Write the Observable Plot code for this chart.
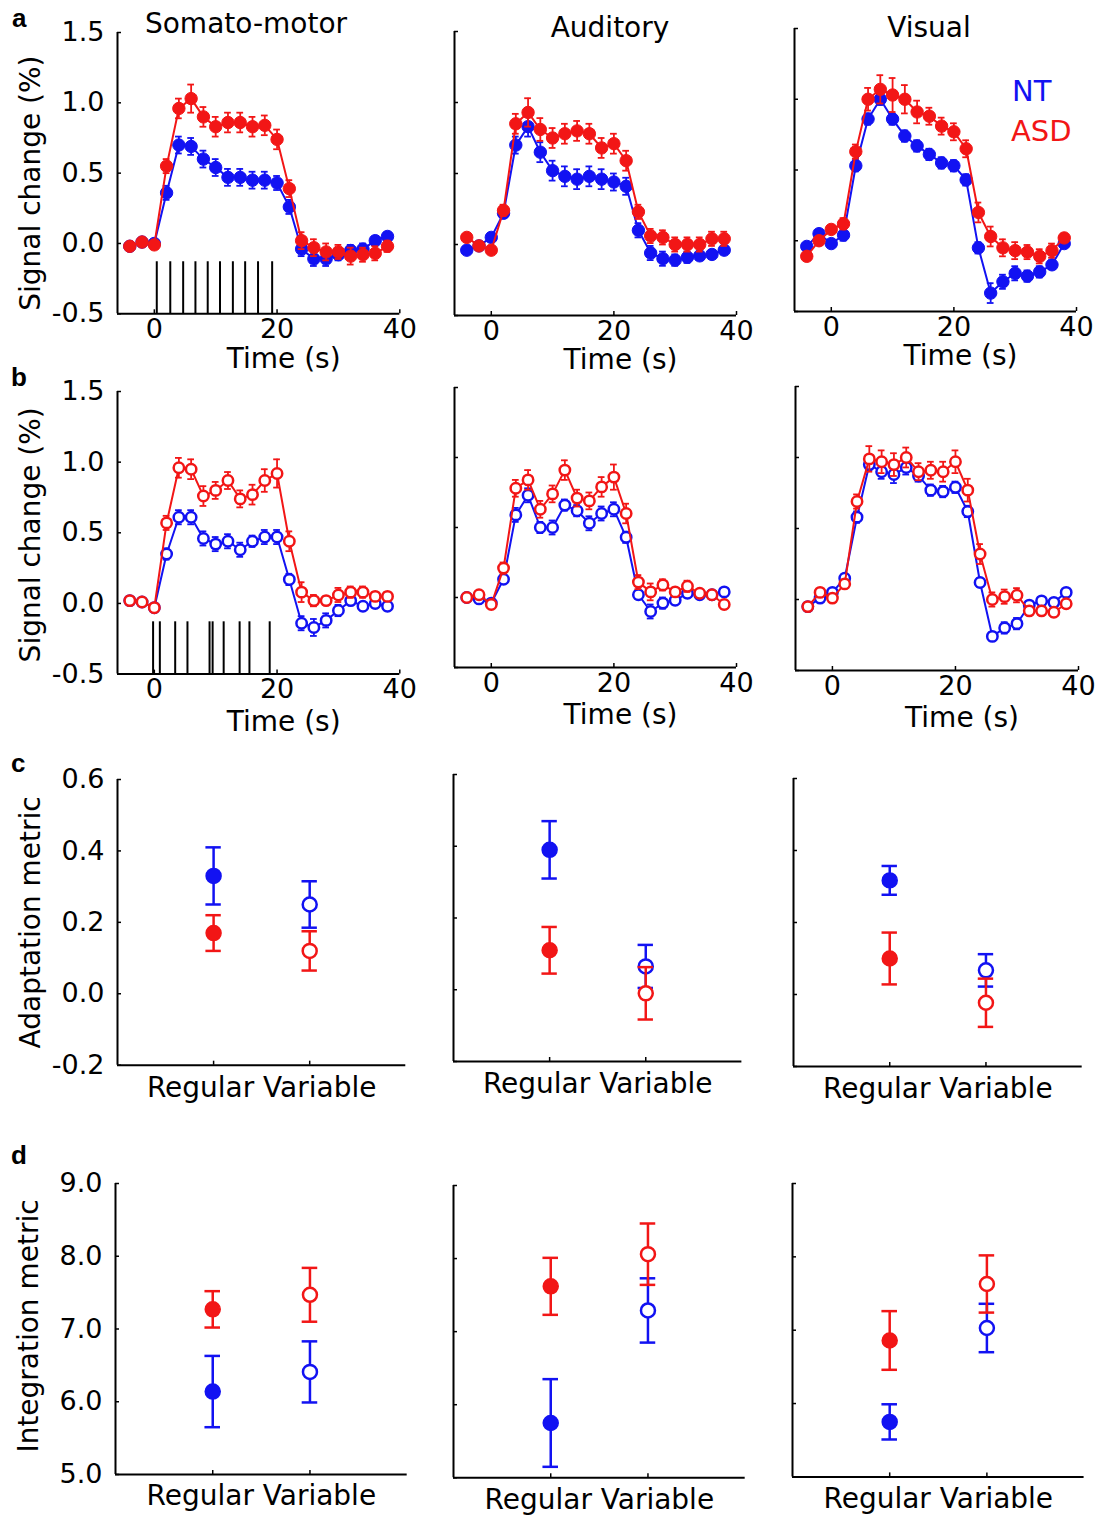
<!DOCTYPE html>
<html><head><meta charset="utf-8">
<script src="https://cdn.jsdelivr.net/npm/d3@7"></script>
<script src="https://cdn.jsdelivr.net/npm/@observablehq/plot@0.6"></script>
<style>
body{margin:0;background:#fff;}
#fig{position:relative;width:1108px;height:1518px;overflow:hidden;background:#fff;font-family:"DejaVu Sans",sans-serif;}
</style></head><body><div id="fig"></div>
<script>
// ---------------- DATA ----------------
const regions = ["Somato-motor", "Auditory", "Visual"];
const timeSec = [-4,-2,0,2,4,6,8,10,12,14,16,18,20,22,24,26,28,30,32,34,36,38];

// Row a: regular stimulation (filled markers)
const regNT = [
  [-0.02,0.01,0.00,0.36,0.70,0.69,0.60,0.54,0.47,0.47,0.45,0.45,0.43,0.26,-0.04,-0.11,-0.11,-0.08,-0.05,-0.04,0.02,0.05],
  [-0.04,-0.01,0.05,0.22,0.70,0.83,0.65,0.52,0.48,0.46,0.48,0.46,0.44,0.41,0.10,-0.06,-0.10,-0.11,-0.09,-0.08,-0.07,-0.04],
  [-0.04,0.05,-0.02,0.04,0.53,0.86,1.00,0.86,0.74,0.67,0.61,0.55,0.53,0.43,-0.05,-0.37,-0.29,-0.23,-0.25,-0.22,-0.17,-0.02]
];
const regNTerr = [
  [0.02,0.02,0.02,0.05,0.06,0.06,0.06,0.06,0.06,0.06,0.06,0.06,0.05,0.05,0.05,0.05,0.05,0.04,0.04,0.04,0.03,0.03],
  [0.02,0.02,0.03,0.03,0.06,0.07,0.07,0.07,0.07,0.07,0.07,0.07,0.06,0.06,0.05,0.05,0.05,0.04,0.04,0.03,0.03,0.03],
  [0.02,0.02,0.02,0.04,0.04,0.04,0.04,0.04,0.04,0.04,0.04,0.04,0.04,0.04,0.04,0.07,0.05,0.05,0.04,0.04,0.03,0.02]
];
const regASD = [
  [-0.02,0.01,-0.01,0.55,0.96,1.03,0.90,0.83,0.86,0.86,0.83,0.84,0.74,0.39,0.02,-0.03,-0.06,-0.06,-0.09,-0.08,-0.07,-0.02],
  [0.05,-0.01,-0.04,0.24,0.85,0.93,0.81,0.75,0.78,0.80,0.78,0.68,0.71,0.59,0.23,0.06,0.05,0.00,0.00,0.00,0.04,0.04],
  [-0.11,0.00,0.08,0.12,0.63,1.00,1.07,1.03,1.00,0.91,0.88,0.81,0.77,0.65,0.20,0.03,-0.05,-0.07,-0.08,-0.11,-0.07,0.02]
];
const regASDerr = [
  [0.02,0.02,0.02,0.05,0.07,0.10,0.07,0.07,0.07,0.07,0.07,0.07,0.07,0.06,0.06,0.06,0.06,0.05,0.06,0.05,0.05,0.04],
  [0.02,0.02,0.02,0.04,0.07,0.10,0.08,0.07,0.07,0.07,0.07,0.07,0.07,0.07,0.05,0.05,0.05,0.05,0.05,0.05,0.05,0.05],
  [0.02,0.02,0.02,0.04,0.05,0.08,0.10,0.12,0.10,0.08,0.06,0.06,0.06,0.06,0.07,0.07,0.06,0.06,0.05,0.05,0.05,0.03]
];

// Row b: variable stimulation (open markers)
const varNT = [
  [0.02,0.01,-0.03,0.35,0.61,0.61,0.46,0.42,0.44,0.38,0.44,0.47,0.47,0.17,-0.14,-0.17,-0.12,-0.05,0.02,-0.02,0.00,-0.02],
  [0.00,-0.01,-0.04,0.13,0.59,0.73,0.50,0.50,0.66,0.62,0.53,0.60,0.63,0.43,0.02,-0.10,-0.04,-0.02,0.03,0.02,0.02,0.04],
  [-0.05,0.01,0.05,0.15,0.58,0.95,0.90,0.88,0.93,0.87,0.77,0.76,0.79,0.62,0.12,-0.26,-0.20,-0.17,-0.04,-0.01,-0.02,0.05]
];
const varNTerr = [
  [0.02,0.02,0.02,0.04,0.05,0.05,0.05,0.05,0.05,0.05,0.04,0.05,0.05,0.04,0.05,0.06,0.05,0.04,0.03,0.03,0.03,0.03],
  [0.02,0.02,0.02,0.03,0.05,0.05,0.04,0.05,0.04,0.04,0.05,0.05,0.05,0.04,0.03,0.05,0.04,0.03,0.03,0.02,0.02,0.02],
  [0.02,0.02,0.02,0.03,0.04,0.04,0.05,0.06,0.05,0.04,0.04,0.04,0.04,0.04,0.03,0.03,0.04,0.04,0.03,0.02,0.02,0.02]
];
const varASD = [
  [0.02,0.01,-0.03,0.57,0.96,0.95,0.76,0.80,0.87,0.74,0.77,0.87,0.92,0.44,0.08,0.02,0.02,0.06,0.08,0.08,0.05,0.05],
  [0.00,0.02,-0.05,0.21,0.78,0.84,0.63,0.74,0.91,0.71,0.69,0.79,0.86,0.60,0.11,0.04,0.09,0.04,0.08,0.03,0.02,-0.05],
  [-0.05,0.05,0.01,0.11,0.69,0.99,0.97,0.95,1.00,0.90,0.91,0.90,0.97,0.77,0.32,0.00,0.02,0.03,-0.08,-0.08,-0.09,-0.03]
];
const varASDerr = [
  [0.02,0.02,0.02,0.05,0.07,0.07,0.07,0.06,0.06,0.06,0.07,0.08,0.10,0.07,0.07,0.04,0.03,0.05,0.04,0.04,0.03,0.03],
  [0.02,0.02,0.02,0.04,0.06,0.07,0.06,0.06,0.07,0.06,0.06,0.07,0.09,0.07,0.05,0.06,0.04,0.03,0.04,0.03,0.03,0.03],
  [0.02,0.02,0.02,0.03,0.05,0.09,0.08,0.08,0.07,0.06,0.06,0.07,0.08,0.08,0.07,0.05,0.05,0.05,0.03,0.03,0.03,0.03]
];

// Stimulus onsets (s) and stimulus bar top (%)
const stimRegular = [0.4,2.6,4.7,6.7,8.7,10.7,12.8,14.8,16.9,19.2];
const stimVariable = [-0.2,0.9,3.4,5.4,9.0,9.5,11.3,13.9,15.5,18.8];
const stimBarTop = -0.13;

// Rows c, d
const conditions = ["Regular", "Variable"];
const adaptNT     = [[0.33,0.25],[0.39,0.065],[0.317,0.067]];
const adaptNTerr  = [[0.08,0.065],[0.08,0.06],[0.04,0.045]];
const adaptASD    = [[0.17,0.12],[0.11,-0.01],[0.10,-0.023]];
const adaptASDerr = [[0.05,0.055],[0.065,0.073],[0.072,0.067]];
const integNT     = [[6.14,6.41],[5.75,7.29],[5.75,7.03]];
const integNTerr  = [[0.49,0.42],[0.60,0.44],[0.24,0.33]];
const integASD    = [[7.27,7.47],[7.62,8.06],[6.86,7.63]];
const integASDerr = [[0.25,0.37],[0.39,0.42],[0.40,0.39]];

// Axes
const timeAxis = [-6, 40], timeTicks = [0, 20, 40];
const signalAxis = [-0.5, 1.5], signalTicks = [-0.5, 0, 0.5, 1.0, 1.5];
const condAxis = [0, 3], condTicks = [1, 2];
const adaptAxis = [-0.2, 0.6], adaptTicks = [-0.2, 0, 0.2, 0.4, 0.6];
const integAxis = [5, 9], integTicks = [5, 6, 7, 8, 9];

const groups = ["NT", "ASD"];
const colNT = "#1212f2", colASD = "#f21616";

// ---------------- LAYOUT ----------------
const fig = document.getElementById("fig");
const geom = {
  a: [{l:116.7,r:399,t:31.7,b:313},{l:454,r:736,t:31,b:315},{l:794,r:1076,t:28,b:311}],
  b: [{l:116.7,r:399,t:390.7,b:673.3},{l:454,r:736,t:386.7,b:666.7},{l:795,r:1078,t:386.3,b:670.3}],
  c: [{l:116.7,r:405,t:779.3,b:1065},{l:453.3,r:741.7,t:774,b:1061},{l:793.3,r:1082,t:778,b:1066}],
  d: [{l:115,r:406.7,t:1183.3,b:1474.3},{l:453.3,r:745,t:1185,b:1477.3},{l:791.7,r:1083.3,t:1183.3,b:1476.7}]
};

function panel(g, col, o) {
  const mL = col === 0 ? 116 : 30, mR = 45, mT = 14, mB = 60;
  const w = g.r - g.l, h = g.b - g.t;
  const svg = Plot.plot({
    width: w + mL + mR, height: h + mT + mB,
    marginLeft: mL, marginRight: mR, marginTop: mT, marginBottom: mB,
    style: "background:transparent;overflow:visible;font-family:'DejaVu Sans',sans-serif;color:black;",
    x: {domain: o.xDomain},
    y: {domain: o.yDomain},
    marks: [
      Plot.axisY({ticks: o.yTicks, tickSize: -4, tickPadding: 17, strokeWidth: 1.5,
        tickFormat: col === 0 ? (d => d.toFixed(1)) : (() => ""), fontSize: 27, label: null}),
      Plot.axisX({ticks: o.xTicks, tickSize: -4, tickPadding: 9, strokeWidth: 1.5,
        tickFormat: o.xFormat, fontSize: 27, label: null}),
      Plot.ruleX([o.xDomain[0]], {stroke: "black", strokeWidth: 2}),
      Plot.ruleY([o.yDomain[0]], {stroke: "black", strokeWidth: 2}),
      ...o.marks,
      Plot.text([o.xLabel], {text: d => d, frameAnchor: "bottom", lineAnchor: "middle", textAnchor: "middle",
        dx: o.xLabelDx, dy: o.xLabelDy, fontSize: 28, fill: "black"}),
      col === 0 ? Plot.text([o.yLabel], {text: d => d, frameAnchor: "left", rotate: -90, textAnchor: "middle",
        lineAnchor: "middle", dx: -86, dy: o.yLabelDy, fontSize: 28, fill: "black"}) : null
    ]
  });
  svg.style.position = "absolute";
  svg.style.left = (g.l - mL) + "px";
  svg.style.top = (g.t - mT) + "px";
  fig.appendChild(svg);
}

function tcMarks(nt, ntErr, asd, asdErr, open, stim) {
  const mk = (vals, errs) => timeSec.map((t, i) => ({t, v: vals[i], e: errs[i]}));
  const series = (d, c) => [
    Plot.line(d, {x: "t", y: "v", stroke: c, strokeWidth: 2}),
    Plot.ruleX(d, {x: "t", y1: p => p.v - p.e, y2: p => p.v + p.e, stroke: c, strokeWidth: 1.8}),
    Plot.ruleY(d, {y: p => p.v + p.e, x1: p => p.t - 0.55, x2: p => p.t + 0.55, stroke: c, strokeWidth: 1.8}),
    Plot.ruleY(d, {y: p => p.v - p.e, x1: p => p.t - 0.55, x2: p => p.t + 0.55, stroke: c, strokeWidth: 1.8}),
    Plot.dot(d, {x: "t", y: "v", r: open ? 5.2 : 6.2, fill: open ? "white" : c, stroke: c, strokeWidth: open ? 2.5 : 1})
  ];
  const m = [];
  if (stim) m.push(Plot.ruleX(stim, {x: d => d, y1: signalAxis[0], y2: stimBarTop, stroke: "black", strokeWidth: 2}));
  return m.concat(series(mk(nt, ntErr), colNT), series(mk(asd, asdErr), colASD));
}

function catMarks(nt, ntErr, asd, asdErr) {
  const mk = (vals, errs) => conditions.map((c, i) => ({x: i + 1, cond: c, v: vals[i], e: errs[i]}));
  const cap = 0.08;
  const series = (d, c) => [
    Plot.ruleX(d, {x: "x", y1: p => p.v - p.e, y2: p => p.v + p.e, stroke: c, strokeWidth: 2.5}),
    Plot.ruleY(d, {y: p => p.v + p.e, x1: p => p.x - cap, x2: p => p.x + cap, stroke: c, strokeWidth: 2.5}),
    Plot.ruleY(d, {y: p => p.v - p.e, x1: p => p.x - cap, x2: p => p.x + cap, stroke: c, strokeWidth: 2.5}),
    Plot.dot(d, {filter: p => p.cond === "Regular", x: "x", y: "v", r: 7.5, fill: c, stroke: c}),
    Plot.dot(d, {filter: p => p.cond === "Variable", x: "x", y: "v", r: 7, fill: "white", stroke: c, strokeWidth: 2.5})
  ];
  return series(mk(nt, ntErr), colNT).concat(series(mk(asd, asdErr), colASD));
}

regions.forEach((name, k) => {
  panel(geom.a[k], k, {xDomain: timeAxis, yDomain: signalAxis, xTicks: timeTicks, yTicks: signalTicks,
    xFormat: d => String(d), xLabel: "Time (s)", xLabelDx: 25, xLabelDy: 45,
    yLabel: "Signal change (%)", yLabelDy: 10,
    marks: tcMarks(regNT[k], regNTerr[k], regASD[k], regASDerr[k], false, k === 0 ? stimRegular : null)});
  panel(geom.b[k], k, {xDomain: timeAxis, yDomain: signalAxis, xTicks: timeTicks, yTicks: signalTicks,
    xFormat: d => String(d), xLabel: "Time (s)", xLabelDx: 25, xLabelDy: 48,
    yLabel: "Signal change (%)", yLabelDy: 2,
    marks: tcMarks(varNT[k], varNTerr[k], varASD[k], varASDerr[k], true, k === 0 ? stimVariable : null)});
  panel(geom.c[k], k, {xDomain: condAxis, yDomain: adaptAxis, xTicks: condTicks, yTicks: adaptTicks,
    xFormat: () => "", xLabel: conditions.join(" "), xLabelDx: 0, xLabelDy: 23,
    yLabel: "Adaptation metric", yLabelDy: 0,
    marks: catMarks(adaptNT[k], adaptNTerr[k], adaptASD[k], adaptASDerr[k])});
  panel(geom.d[k], k, {xDomain: condAxis, yDomain: integAxis, xTicks: condTicks, yTicks: integTicks,
    xFormat: () => "", xLabel: conditions.join(" "), xLabelDx: 0, xLabelDy: 22,
    yLabel: "Integration metric", yLabelDy: -3,
    marks: catMarks(integNT[k], integNTerr[k], integASD[k], integASDerr[k])});
});

// ---------------- TEXT ----------------
function label(text, x, cy, {size = 28, color = "black", weight = "normal", family = "DejaVu Sans", center = true} = {}) {
  const d = document.createElement("div");
  d.textContent = text;
  Object.assign(d.style, {position: "absolute", left: x + "px", top: cy + "px",
    transform: `translate(${center ? -50 : 0}%, -50%)`, fontSize: size + "px", lineHeight: "1",
    color, fontWeight: weight, fontFamily: family, whiteSpace: "nowrap"});
  fig.appendChild(d);
}
label(regions[0], 246, 24);
label(regions[1], 610, 28);
label(regions[2], 929, 28);
label(groups[0], 1012, 91, {color: colNT, center: false, size: 29});
label(groups[1], 1011, 131, {color: colASD, center: false, size: 29});
label("a", 12, 18, {size: 26, weight: "bold", family: "Liberation Sans", center: false});
label("b", 11, 377, {size: 26, weight: "bold", family: "Liberation Sans", center: false});
label("c", 11, 763, {size: 26, weight: "bold", family: "Liberation Sans", center: false});
label("d", 11, 1155, {size: 26, weight: "bold", family: "Liberation Sans", center: false});
</script></body></html>
